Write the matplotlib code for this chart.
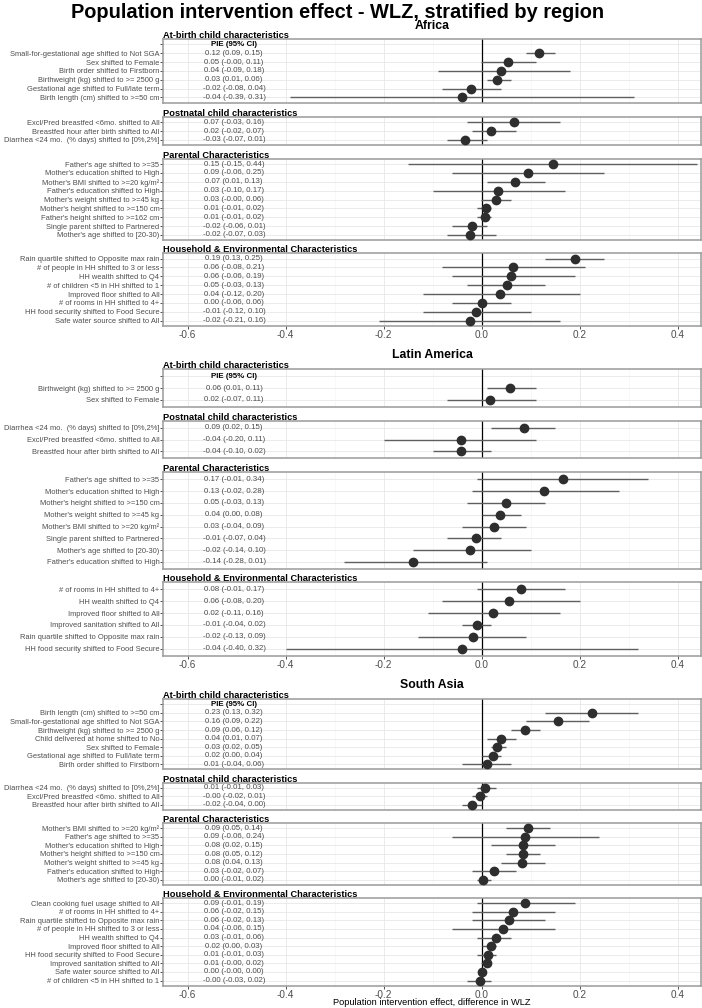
import matplotlib
matplotlib.use("Agg")
import matplotlib.pyplot as plt
from matplotlib.ticker import MultipleLocator

plt.rcParams['font.family'] = ['Liberation Sans', 'DejaVu Sans']

# ---------------- DATA ----------------
# Africa
af_birth_labels = ["Small-for-gestational age shifted to Not SGA", "Sex shifted to Female",
                   "Birth order shifted to Firstborn", "Birthweight (kg) shifted to >= 2500 g",
                   "Gestational age shifted to Full/late term", "Birth length (cm) shifted to >=50 cm"]
af_birth_est = [0.118, 0.054, 0.040, 0.031, -0.022, -0.040]
af_birth_lo = [0.09, -0.001, -0.09, 0.01, -0.08, -0.39]
af_birth_hi = [0.15, 0.11, 0.18, 0.06, 0.04, 0.31]

af_post_labels = ["Excl/Pred breastfed <6mo. shifted to All", "Breastfed hour after birth shifted to All",
                  "Diarrhea <24 mo.  (% days) shifted to [0%,2%]"]
af_post_est = [0.066, 0.020, -0.033]
af_post_lo = [-0.03, -0.02, -0.07]
af_post_hi = [0.16, 0.07, 0.01]

af_par_labels = ["Father's age shifted to >=35", "Mother's education shifted to High",
                 "Mother's BMI shifted to >=20 kg/m²", "Father's education shifted to High",
                 "Mother's weight shifted to >=45 kg", "Mother's height shifted to >=150 cm",
                 "Father's height shifted to >=162 cm", "Single parent shifted to Partnered",
                 "Mother's age shifted to [20-30)"]
af_par_est = [0.146, 0.094, 0.069, 0.033, 0.029, 0.008, 0.006, -0.020, -0.024]
af_par_lo = [-0.15, -0.06, 0.01, -0.10, -0.001, -0.01, -0.01, -0.06, -0.07]
af_par_hi = [0.44, 0.25, 0.13, 0.17, 0.06, 0.02, 0.02, 0.01, 0.03]

af_hh_labels = ["Rain quartile shifted to Opposite max rain", "# of people in HH shifted to 3 or less",
                "HH wealth shifted to Q4", "# of children <5 in HH shifted to 1",
                "Improved floor shifted to All", "# of rooms in HH shifted to 4+",
                "HH food security shifted to Food Secure", "Safe water source shifted to All"]
af_hh_est = [0.190, 0.063, 0.060, 0.052, 0.038, 0.000, -0.012, -0.024]
af_hh_lo = [0.13, -0.08, -0.06, -0.03, -0.12, -0.06, -0.12, -0.21]
af_hh_hi = [0.25, 0.21, 0.19, 0.13, 0.20, 0.06, 0.10, 0.16]

# Latin America
la_birth_labels = ["Birthweight (kg) shifted to >= 2500 g", "Sex shifted to Female"]
la_birth_est = [0.058, 0.018]
la_birth_lo = [0.01, -0.07]
la_birth_hi = [0.11, 0.11]

la_post_labels = ["Diarrhea <24 mo.  (% days) shifted to [0%,2%]", "Excl/Pred breastfed <6mo. shifted to All",
                  "Breastfed hour after birth shifted to All"]
la_post_est = [0.086, -0.043, -0.043]
la_post_lo = [0.02, -0.20, -0.10]
la_post_hi = [0.15, 0.11, 0.02]

la_par_labels = ["Father's age shifted to >=35", "Mother's education shifted to High",
                 "Mother's height shifted to >=150 cm", "Mother's weight shifted to >=45 kg",
                 "Mother's BMI shifted to >=20 kg/m²", "Single parent shifted to Partnered",
                 "Mother's age shifted to [20-30)", "Father's education shifted to High"]
la_par_est = [0.167, 0.127, 0.050, 0.038, 0.026, -0.011, -0.024, -0.139]
la_par_lo = [-0.01, -0.02, -0.03, 0.0, -0.04, -0.07, -0.14, -0.28]
la_par_hi = [0.34, 0.28, 0.13, 0.08, 0.09, 0.04, 0.10, 0.01]

la_hh_labels = ["# of rooms in HH shifted to 4+", "HH wealth shifted to Q4", "Improved floor shifted to All",
                "Improved sanitation shifted to All", "Rain quartile shifted to Opposite max rain",
                "HH food security shifted to Food Secure"]
la_hh_est = [0.080, 0.056, 0.023, -0.010, -0.018, -0.040]
la_hh_lo = [-0.01, -0.08, -0.11, -0.04, -0.13, -0.40]
la_hh_hi = [0.17, 0.20, 0.16, 0.02, 0.09, 0.32]

# South Asia
sa_birth_labels = ["Birth length (cm) shifted to >=50 cm", "Small-for-gestational age shifted to Not SGA",
                   "Birthweight (kg) shifted to >= 2500 g", "Child delivered at home shifted to No",
                   "Sex shifted to Female", "Gestational age shifted to Full/late term",
                   "Birth order shifted to Firstborn"]
sa_birth_est = [0.226, 0.156, 0.088, 0.039, 0.031, 0.024, 0.010]
sa_birth_lo = [0.13, 0.09, 0.06, 0.01, 0.02, 0.001, -0.04]
sa_birth_hi = [0.32, 0.22, 0.12, 0.07, 0.05, 0.04, 0.06]

sa_post_labels = ["Diarrhea <24 mo.  (% days) shifted to [0%,2%]", "Excl/Pred breastfed <6mo. shifted to All",
                  "Breastfed hour after birth shifted to All"]
sa_post_est = [0.006, -0.003, -0.019]
sa_post_lo = [-0.01, -0.02, -0.04]
sa_post_hi = [0.03, 0.01, 0.001]

sa_par_labels = ["Mother's BMI shifted to >=20 kg/m²", "Father's age shifted to >=35",
                 "Mother's education shifted to High", "Mother's height shifted to >=150 cm",
                 "Mother's weight shifted to >=45 kg", "Father's education shifted to High",
                 "Mother's age shifted to [20-30)"]
sa_par_est = [0.094, 0.088, 0.084, 0.084, 0.083, 0.026, 0.003]
sa_par_lo = [0.05, -0.06, 0.02, 0.05, 0.04, -0.02, -0.01]
sa_par_hi = [0.14, 0.24, 0.15, 0.12, 0.13, 0.07, 0.02]

sa_hh_labels = ["Clean cooking fuel usage shifted to All", "# of rooms in HH shifted to 4+",
                "Rain quartile shifted to Opposite max rain", "# of people in HH shifted to 3 or less",
                "HH wealth shifted to Q4", "Improved floor shifted to All",
                "HH food security shifted to Food Secure", "Improved sanitation shifted to All",
                "Safe water source shifted to All", "# of children <5 in HH shifted to 1"]
sa_hh_est = [0.089, 0.063, 0.056, 0.043, 0.029, 0.020, 0.014, 0.011, 0.000, -0.004]
sa_hh_lo = [-0.01, -0.02, -0.02, -0.06, -0.01, 0.001, -0.01, -0.001, -0.001, -0.03]
sa_hh_hi = [0.19, 0.15, 0.13, 0.15, 0.06, 0.03, 0.03, 0.02, 0.001, 0.02]

section_titles = ["At-birth child characteristics", "Postnatal child characteristics",
                  "Parental Characteristics", "Household & Environmental Characteristics"]
region_names = ["Africa", "Latin America", "South Asia"]
x_ticks = [-0.6, -0.4, -0.2, 0.0, 0.2, 0.4]
x_label = "Population intervention effect, difference in WLZ"
main_title = "Population intervention effect - WLZ, stratified by region"

# ---------------- LAYOUT ----------------
W, H = 702, 1008
fig = plt.figure(figsize=(W / 100, H / 100), dpi=100)

PX_L, PX_R = 163, 701
XLIM = (-0.65, 0.4475)
TABLE_X = -0.505

regions = [
    (region_names[0], 26, [
        (af_birth_labels, af_birth_est, af_birth_lo, af_birth_hi, 39, 102.7),
        (af_post_labels, af_post_est, af_post_lo, af_post_hi, 117.3, 145),
        (af_par_labels, af_par_est, af_par_lo, af_par_hi, 158.7, 240.3),
        (af_hh_labels, af_hh_est, af_hh_lo, af_hh_hi, 253.3, 326),
    ]),
    (region_names[1], 355, [
        (la_birth_labels, la_birth_est, la_birth_lo, la_birth_hi, 369.3, 407),
        (la_post_labels, la_post_est, la_post_lo, la_post_hi, 420.7, 458.3),
        (la_par_labels, la_par_est, la_par_lo, la_par_hi, 472.3, 569),
        (la_hh_labels, la_hh_est, la_hh_lo, la_hh_hi, 582.3, 655.7),
    ]),
    (region_names[2], 684.5, [
        (sa_birth_labels, sa_birth_est, sa_birth_lo, sa_birth_hi, 699.3, 769.3),
        (sa_post_labels, sa_post_est, sa_post_lo, sa_post_hi, 782.7, 810),
        (sa_par_labels, sa_par_est, sa_par_lo, sa_par_hi, 823.3, 884.7),
        (sa_hh_labels, sa_hh_est, sa_hh_lo, sa_hh_hi, 898, 985.7),
    ]),
]

TXT = '#4d4d4d'
LAB_FS = 5.45
TAB_FS = 5.7
for rname, ry, panels in regions:
    fig.text((PX_L + PX_R) / 2 / W, 1 - ry / H, rname, ha='center', va='center',
             fontsize=8.8, fontweight='bold', color='black')
    for pi, (labels, est, lo, hi, top, bot) in enumerate(panels):
        header = (pi == 0)
        ax = fig.add_axes([PX_L / W, 1 - bot / H, (PX_R - PX_L) / W, (bot - top) / H])
        n = len(labels) + (1 if header else 0)
        ys = [n - 1 - i - (1 if header else 0) for i in range(len(labels))]
        ax.set_xlim(*XLIM)
        ax.set_ylim(-0.6, n - 1 + 0.6)
        ax.set_xticks(x_ticks)
        ax.xaxis.set_minor_locator(MultipleLocator(0.1))
        ytick_pos = list(ys) + ([n - 1] if header else [])
        ytick_lab = list(labels) + ([''] if header else [])
        ax.set_yticks(ytick_pos)
        ax.set_yticklabels(ytick_lab, fontsize=LAB_FS, color=TXT)
        ax.tick_params(axis='y', length=2, width=0.6, color='#333333', pad=0.6)
        ax.tick_params(axis='x', which='minor', length=0)
        ax.grid(which='major', color='#e8e8e8', lw=0.6, zorder=0)
        ax.grid(which='minor', axis='x', color='#f3f3f3', lw=0.4, zorder=0)
        ax.set_axisbelow(True)
        for s in ax.spines.values():
            s.set_color('#9a9a9a')
            s.set_linewidth(1.1)
        ax.axvline(0, color='black', lw=0.9, zorder=2)
        ax.hlines(ys, lo, hi, color='#5f5f5f', lw=1.0, zorder=3)
        ax.plot(est, ys, 'o', ms=6.0, color='#2e2e2e', zorder=4, clip_on=False)
        for y, e, l, h in zip(ys, est, lo, hi):
            ax.text(TABLE_X, y, f"{e:.2f} ({l:.2f}, {h:.2f})", ha='center', va='center',
                    fontsize=TAB_FS, color=TXT)
        if header:
            ax.text(TABLE_X, n - 1, "PIE (95% CI)", ha='center', va='center',
                    fontsize=TAB_FS, fontweight='bold', color='black')
        if pi == len(panels) - 1:
            ax.tick_params(axis='x', which='major', length=2, width=0.6, color='#333333',
                           labelsize=7.2, labelcolor=TXT, pad=1)
            ax.set_xticklabels([f"{t:.1f}" for t in x_ticks])
        else:
            ax.tick_params(axis='x', which='major', length=0, labelbottom=False)
        fig.text(PX_L / W, 1 - (top - 1.0) / H, section_titles[pi], ha='left', va='baseline',
                 fontsize=6.7, fontweight='bold', color='black')

fig.text((PX_L + PX_R) / 2 / W, 1 - 1002.5 / H, x_label, ha='center', va='center',
         fontsize=6.7, color='black')
fig.text(338 / W, 1 - 12.5 / H, main_title, ha='center', va='center',
         fontsize=14.4, fontweight='bold', color='black')

fig.savefig("out.png", dpi=100)
